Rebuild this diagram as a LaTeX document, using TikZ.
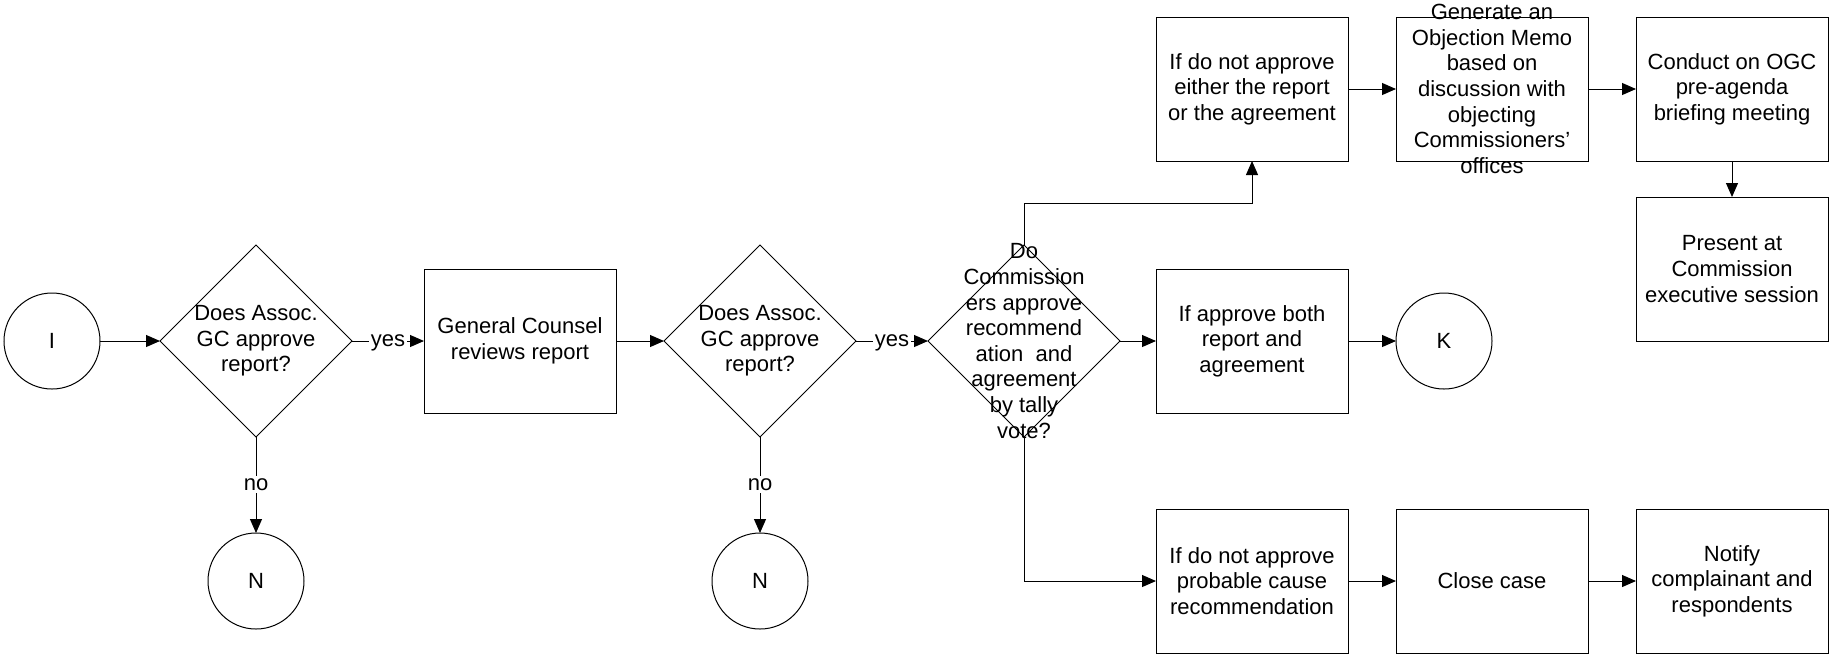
\documentclass[tikz,border=0pt]{standalone}
\usepackage{fontspec}
\setmainfont{Liberation Sans}
\usetikzlibrary{arrows.meta,shapes.geometric}
\begin{document}
\begin{tikzpicture}[x=0.5pt,y=-0.5pt,
  every node/.style={font=\fontsize{11}{12.8}\selectfont},
  shp/.style={draw=black,line width=0.5pt,inner sep=0pt,outer sep=0pt},
  boxnode/.style={shp,rectangle,minimum width=96pt,minimum height=72pt},
  dianode/.style={shp,diamond,minimum width=96pt,minimum height=96pt},
  circnode/.style={shp,circle,minimum size=48pt},
  txt/.style={align=center,inner sep=0pt},
  lab/.style={fill=white,inner sep=1pt,anchor=mid},
  arr/.style={draw=black,line width=0.5pt,-{Triangle[length=7pt,width=6pt]}}]
\useasboundingbox (0,0) rectangle (1830,655);

% left part
\node[circnode] (i) at (52,341) {};
\node[txt] (ti) at (i) {I};
\node[dianode] (d1) at (256,341) {};
\node[txt] (td1) at (d1) {Does Assoc.\\GC approve\\report?};
\node[circnode] (n1) at (256,581) {};
\node[txt] (tn1) at (n1) {N};
\node[boxnode] (gc) at (520,341) {};
\node[txt] (tgc) at (gc) {General Counsel\\reviews report};
\node[dianode] (d2) at (760,341) {};
\node[txt] (td2) at (d2) {Does Assoc.\\GC approve\\report?};
\node[circnode] (n2) at (760,581) {};
\node[txt] (tn2) at (n2) {N};
\node[dianode] (d3) at (1024,341) {};
\node[txt] (td3) at (d3) {Do\\Commission\\ers approve\\recommend\\ation\ \ and\\agreement\\by tally\\vote?};

% top row
\node[boxnode] (ta) at (1252,89) {};
\node[txt] (tta) at (ta) {If do not approve\\either the report\\or the agreement};
\node[boxnode] (tb) at (1492,89) {};
\node[txt] (ttb) at (tb) {Generate an\\Objection Memo\\based on\\discussion with\\objecting\\Commissioners’\\offices};
\node[boxnode] (tc) at (1732,89) {};
\node[txt] (ttc) at (tc) {Conduct on OGC\\pre-agenda\\briefing meeting};
\node[boxnode] (td) at (1732,269) {};
\node[txt] (ttd) at (td) {Present at\\Commission\\executive session};

% middle row
\node[boxnode] (ma) at (1252,341) {};
\node[txt] (tma) at (ma) {If approve both\\report and\\agreement};
\node[circnode] (k) at (1444,341) {};
\node[txt] (tk) at (k) {K};

% bottom row
\node[boxnode] (ba) at (1252,581) {};
\node[txt] (tba) at (ba) {If do not approve\\probable cause\\recommendation};
\node[boxnode] (bb) at (1492,581) {};
\node[txt] (tbb) at (bb) {Close case};
\node[boxnode] (bc) at (1732,581) {};
\node[txt] (tbc) at (bc) {Notify\\complainant and\\respondents};

\coordinate (c1) at (1024,203);

% connectors
\draw[arr] (i) -- (d1);
\draw[arr] (d1) -- node[lab] (yes1) {yes} (gc);
\draw[arr] (d1) -- node[lab] (no1) {no} (n1);
\draw[arr] (gc) -- (d2);
\draw[arr] (d2) -- node[lab] (yes2) {yes} (d3);
\draw[arr] (d2) -- node[lab] (no2) {no} (n2);
\draw[arr] (d3.north) -- (c1) -| (ta.south);
\draw[arr] (d3) -- (ma);
\draw[arr] (d3.south) |- (ba.west);
\draw[arr] (ma) -- (k);
\draw[arr] (ta) -- (tb);
\draw[arr] (tb) -- (tc);
\draw[arr] (tc) -- (td);
\draw[arr] (ba) -- (bb);
\draw[arr] (bb) -- (bc);
\end{tikzpicture}
\end{document}
